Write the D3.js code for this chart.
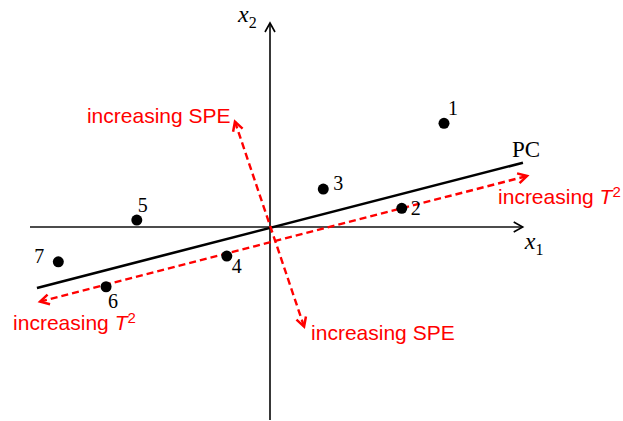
<!DOCTYPE html>
<html>
<head>
<meta charset="utf-8">
<script src="https://cdn.jsdelivr.net/npm/d3@7"></script>
<style>
  body { margin: 0; background: #fff; }
  svg { display: block; }
</style>
</head>
<body>
<svg width="623" height="421"></svg>
<script>
// data (in plot units, origin at the axes crossing)
var pointIds = ["1", "2", "3", "4", "5", "6", "7"];
var pointX = [7.25, 5.49, 2.22, -1.80, -5.55, -6.83, -8.82];
var pointY = [4.32, 0.78, 1.58, -1.21, 0.29, -2.49, -1.45];

var axisX = [-10, 10.53];
var axisY = [-8.04, 8.5];
var pcLine = [[-9.71, -2.54], [10.54, 2.68]];
var t2Line = [[-9.58, -3.11], [10.71, 2.125]];
var speLine = [[-1.46, 4.39], [1.42, -4.15]];

var svg = d3.select("svg");
var red = "#ff0000";

var x = d3.scaleLinear().domain([-10, 10]).range([30, 510]);
var y = d3.scaleLinear().domain([-8, 8]).range([419, 35]);

var defs = svg.append("defs");
function marker(id, color, w) {
  defs.append("marker")
    .attr("id", id)
    .attr("markerUnits", "userSpaceOnUse")
    .attr("viewBox", "-2 -8 14 16")
    .attr("refX", 9).attr("refY", 0)
    .attr("markerWidth", 14).attr("markerHeight", 16)
    .attr("orient", "auto-start-reverse")
    .append("path")
    .attr("d", "M0,-5L9,0L0,5")
    .attr("fill", "none")
    .attr("stroke", color)
    .attr("stroke-width", w);
}
marker("arrBlack", "#000", 1.6);
marker("arrRed", red, 2.5);

var line = d3.line().x(function(d) { return x(d[0]); }).y(function(d) { return y(d[1]); });

// axes
svg.append("path")
  .attr("d", line([[axisX[0], 0], [axisX[1], 0]]))
  .attr("stroke", "#111").attr("stroke-width", 1.6).attr("fill", "none")
  .attr("marker-end", "url(#arrBlack)");
svg.append("path")
  .attr("d", line([[0, axisY[0]], [0, axisY[1]]]))
  .attr("stroke", "#222").attr("stroke-width", 1.8).attr("fill", "none")
  .attr("marker-end", "url(#arrBlack)");

// PC line
svg.append("path")
  .attr("d", line(pcLine))
  .attr("stroke", "#000").attr("stroke-width", 2.6).attr("fill", "none");

// red dashed directions
[t2Line, speLine].forEach(function(l) {
  svg.append("path")
    .attr("d", line(l))
    .attr("stroke", red).attr("stroke-width", 2.4).attr("fill", "none")
    .attr("stroke-dasharray", "7,4")
    .attr("marker-start", "url(#arrRed)")
    .attr("marker-end", "url(#arrRed)");
});

// points
var pts = pointIds.map(function(id, i) { return {id: id, x: pointX[i], y: pointY[i]}; });
var labelOffset = {"1": [4, -8], "2": [9, 7], "3": [10, 1], "4": [5, 17], "5": [1, -8], "6": [2, 21], "7": [-24, 1]};

svg.selectAll(".pt").data(pts).enter().append("circle")
  .attr("class", "pt")
  .attr("cx", function(d) { return x(d.x); })
  .attr("cy", function(d) { return y(d.y); })
  .attr("r", 5.5)
  .attr("fill", "#000");

var serif = "'Liberation Serif', 'Times New Roman', serif";
svg.selectAll(".lbl").data(pts).enter().append("text")
  .attr("class", "lbl")
  .attr("x", function(d) { return x(d.x) + labelOffset[d.id][0]; })
  .attr("y", function(d) { return y(d.y) + labelOffset[d.id][1]; })
  .style("font-family", serif)
  .style("font-size", "20px")
  .text(function(d) { return d.id; });

// axis labels
function axisLabel(px, py, sub) {
  var t = svg.append("text").attr("x", px).attr("y", py)
    .style("font-family", serif).style("font-size", "24px");
  t.append("tspan").style("font-style", "italic").text("x");
  t.append("tspan").attr("dy", 6).style("font-size", "16px").text(sub);
}
axisLabel(x(axisX[1]) + 2, y(0) + 22, "1");
axisLabel(x(0) - 32, y(axisY[1]) - 1, "2");

svg.append("text")
  .attr("x", x(pcLine[1][0]) - 11).attr("y", y(pcLine[1][1]) - 6)
  .style("font-family", serif).style("font-size", "23px")
  .text("PC");

// red captions
var sans = "'Liberation Sans', Arial, sans-serif";
function caption(px, py, main, italicPart) {
  var t = svg.append("text").attr("x", px).attr("y", py)
    .attr("fill", red)
    .style("font-family", sans).style("font-size", "21px");
  t.append("tspan").text(main);
  if (italicPart) {
    t.append("tspan").style("font-style", "italic").text(italicPart);
    t.append("tspan").attr("dy", -7).style("font-size", "15px").text("2");
  }
}
caption(x(speLine[0][0]) - 148, y(speLine[0][1]) + 1, "increasing SPE");
caption(x(speLine[1][0]) + 7, y(speLine[1][1]) + 13, "increasing SPE");
caption(x(t2Line[0][0]) - 27, y(t2Line[0][1]) + 28, "increasing ", "T");
caption(x(t2Line[1][0]) - 29, y(t2Line[1][1]) + 28, "increasing ", "T");
</script>
</body>
</html>
